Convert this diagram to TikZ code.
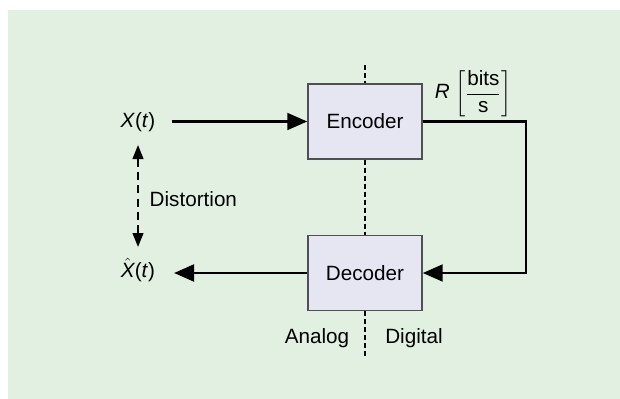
\documentclass[tikz,border=0pt]{standalone}
\usepackage{amsmath}
\usepackage{fontspec}
\setmainfont{Liberation Sans}
\usetikzlibrary{arrows.meta}
\definecolor{bggreen}{RGB}{225,240,225}
\definecolor{boxfill}{RGB}{230,230,243}
\definecolor{boxline}{RGB}{80,80,80}
\begin{document}
\begin{tikzpicture}[x=0.75pt,y=-0.75pt, every node/.style={font=\fontsize{15.5}{18}\selectfont},
  block/.style={draw=boxline,line width=1.1pt,fill=boxfill,minimum width=85.5pt,minimum height=56.5pt,inner sep=0pt},
  sig/.style={line width=2.2pt,-{Triangle[length=15pt,width=12.5pt]}},
  divider/.style={line width=1.4pt,dash pattern=on 3.5pt off 2.5pt}]
\useasboundingbox (0,0) rectangle (620,399);
\fill[bggreen] (8,10) rectangle (620,399);
% blocks
\node[block] (enc) at (365,121.5) {Encoder};
\node[block] (dec) at (365,273) {Decoder};
% signals
\node (x) at (138,122) {\textit{X}(\textit{t})};
\node (xhat) at (138,270) {$\hat{\text{\itshape X}}$(\textit{t})};
\node[anchor=west] (dist) at (145,199) {Distortion};
\node (rate) at (473,94) {\textit{R} $\left[\dfrac{\text{bits}}{\text{s}}\right]$};
\node (ana) at (317,338) {Analog};
\node (dig) at (414,338) {Digital};
\coordinate (turn) at (526,121.5);
\coordinate (ttop) at (365,65);
\coordinate (tbot) at (365,358);
\coordinate (xs) at (172,121.5);
\coordinate (xe) at (174,273);
\coordinate (dtop) at (138,145);
\coordinate (dbot) at (138,247);
% connectors
\draw[sig] (xs) -- (xs -| enc.west);
\draw[sig] (enc.east |- turn) -- (turn) |- (dec.east);
\draw[sig] (dec.west) -- (xe);
\draw[line width=1.5pt,dash pattern=on 6pt off 4pt,{Triangle[length=10.5pt,width=8pt]}-{Triangle[length=10.5pt,width=8pt]}] (dtop) -- (dbot);
% analog / digital border
\draw[divider] (ttop) -- (enc.north);
\draw[divider] (enc.south) -- (dec.north);
\draw[divider] (dec.south) -- (tbot);
\end{tikzpicture}
\end{document}
